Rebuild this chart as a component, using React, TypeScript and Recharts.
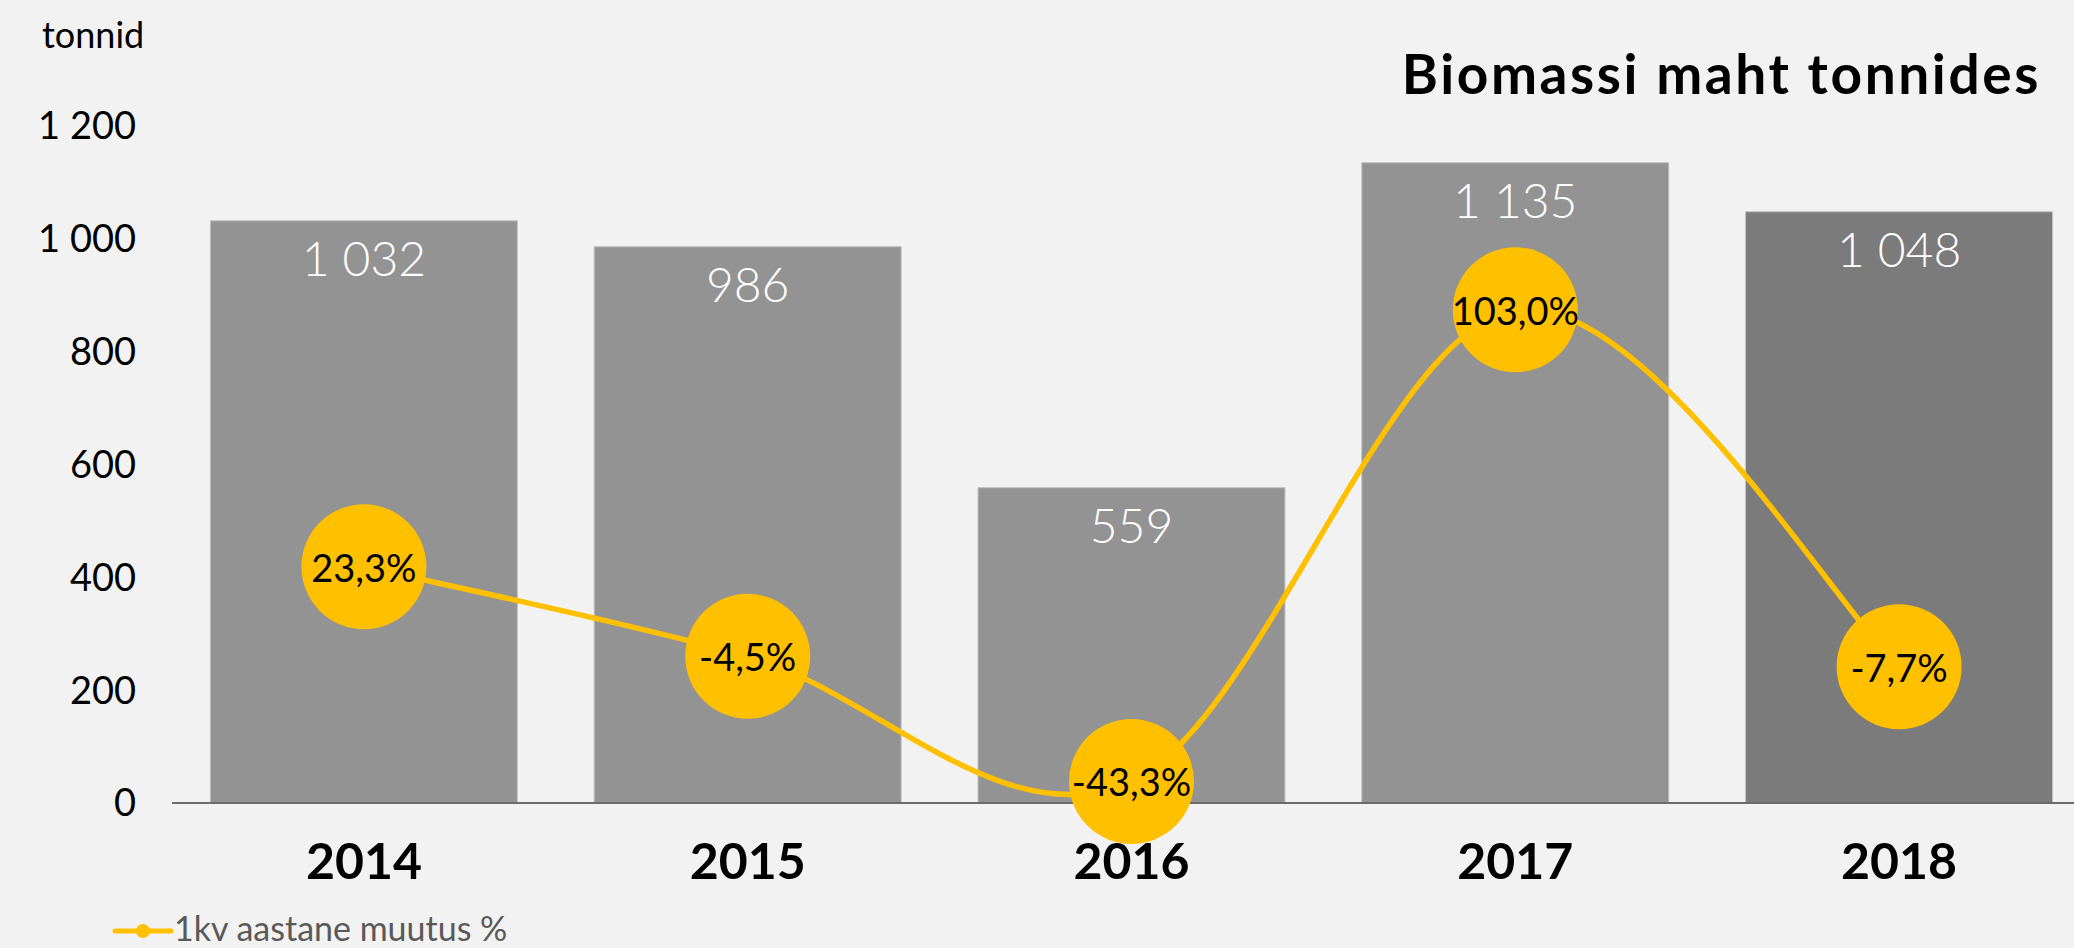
import React from 'react';
import { ComposedChart, Bar, Line, XAxis, YAxis, Cell, LabelList, Legend } from 'recharts';

const YEARS = ['2014', '2015', '2016', '2017', '2018'];
const BIOMASS = [1032, 986, 559, 1135, 1048];
const CHANGE = [23.3, -4.5, -43.3, 103.0, -7.7];
const Y_TICKS = [0, 200, 400, 600, 800, 1000, 1200];
const BOUNDARY_TICKS = [0, 1, 2, 3, 4, 5];
const BAR_COLORS = ['#939393', '#939393', '#939393', '#939393', '#7b7b7b'];
const TITLE = 'Biomassi maht tonnides';
const UNIT = 'tonnid';
const LEGEND_LABEL = '1kv aastane muutus %';

const data = YEARS.map((year, i) => ({ year, biomass: BIOMASS[i], change: CHANGE[i] }));

const FONT = 'Lato, "Open Sans", sans-serif';
const GOLD = '#FFC000';
const W = 2091;
const H = 948;

const fmtThousands = (v: number) => String(v).replace(/\B(?=(\d{3})+(?!\d))/g, ' ');
const fmtPct = (v: number) => v.toFixed(1).replace('.', ',') + '%';

// Excel-like smoothed line (Catmull-Rom through points)
const excelSmooth = (context: any) => {
  let pts: [number, number][] = [];
  return {
    areaStart() {},
    areaEnd() {},
    lineStart() {
      pts = [];
    },
    point(x: number, y: number) {
      pts.push([+x, +y]);
    },
    lineEnd() {
      const n = pts.length;
      if (!n) return;
      context.moveTo(pts[0][0], pts[0][1]);
      for (let i = 0; i < n - 1; i++) {
        const p0 = pts[Math.max(i - 1, 0)];
        const p1 = pts[i];
        const p2 = pts[i + 1];
        const p3 = pts[Math.min(i + 2, n - 1)];
        context.bezierCurveTo(
          p1[0] + (p2[0] - p0[0]) / 6,
          p1[1] + (p2[1] - p0[1]) / 6,
          p2[0] - (p3[0] - p1[0]) / 6,
          p2[1] - (p3[1] - p1[1]) / 6,
          p2[0],
          p2[1]
        );
      }
    },
  };
};

const renderDot = (props: any) => {
  const { cx, cy, value, index } = props;
  if (cx == null || cy == null) return <g key={`d${index}`} />;
  return (
    <g key={`d${index}`}>
      <circle cx={cx} cy={cy} r={62.5} fill={GOLD} />
      <text x={cx} y={cy} dy={15} textAnchor="middle" fontFamily={FONT} fontSize={38} fill="#000">
        {fmtPct(value)}
      </text>
    </g>
  );
};

const renderBarLabel = (props: any) => {
  const { x, y, width, value, index } = props;
  return (
    <text
      key={`bl${index}`}
      x={x + width / 2}
      y={y}
      dy={55}
      textAnchor="middle"
      fontFamily={FONT}
      fontWeight={300}
      fontSize={48}
      fill="#ffffff"
    >
      {fmtThousands(value)}
    </text>
  );
};

const YearTick = (props: any) => {
  const { x, y, payload } = props;
  return (
    <text x={x} y={y} dy={76} textAnchor="middle" fontFamily={FONT} fontWeight={700} fontSize={50} fill="#000">
      {payload.value}
    </text>
  );
};

const BoundaryTick = (props: any) => {
  const { x, y } = props;
  return <line x1={x} x2={x} y1={y - 14} y2={y + 15} stroke="#6b6b6b" strokeWidth={2} />;
};

const LegendContent = () => (
  <svg width={420} height={40} style={{ display: 'block', overflow: 'visible' }}>
    <line x1={5} x2={61} y1={26} y2={26} stroke={GOLD} strokeWidth={5} strokeLinecap="round" />
    <circle cx={33} cy={26} r={7} fill={GOLD} />
    <text x={64} y={36} fontFamily={FONT} fontSize={34} fill="#595959">
      {LEGEND_LABEL}
    </text>
  </svg>
);

export default function App() {
  return (
    <div
      style={{
        position: 'absolute',
        left: 0,
        top: 0,
        width: 2074,
        height: 948,
        overflow: 'hidden',
        background: '#f2f2f2',
      }}
    >
      <ComposedChart
        width={W}
        height={H}
        data={data}
        margin={{ top: 126, right: 0, bottom: 0, left: 0 }}
        barCategoryGap="10%"
      >
        <XAxis
          xAxisId="bounds"
          type="number"
          domain={[0, 5]}
          ticks={BOUNDARY_TICKS}
          interval={0}
          height={0}
          axisLine={false}
          tickLine={false}
          tickSize={0}
          tickMargin={0}
          tick={<BoundaryTick />}
          allowDataOverflow
        />
        <XAxis
          xAxisId="cat"
          dataKey="year"
          height={145}
          axisLine={{ stroke: '#6b6b6b', strokeWidth: 2 }}
          tickLine={false}
          tickSize={0}
          tickMargin={0}
          interval={0}
          tick={<YearTick />}
        />
        <YAxis
          yAxisId="left"
          width={172}
          domain={[0, 1200]}
          ticks={Y_TICKS}
          interval={0}
          axisLine={false}
          tickLine={false}
          tickSize={0}
          tickMargin={36}
          tickFormatter={fmtThousands}
          tick={{ fill: '#000', fontSize: 38, fontFamily: FONT }}
        />
        <YAxis yAxisId="pct" orientation="right" domain={[-50, 160]} hide />
        <Bar
          xAxisId="cat"
          yAxisId="left"
          dataKey="biomass"
          stroke="#c2c2c2"
          strokeWidth={1}
          isAnimationActive={false}
        >
          {data.map((d, i) => (
            <Cell key={d.year} fill={BAR_COLORS[i]} />
          ))}
          <LabelList dataKey="biomass" content={renderBarLabel} />
        </Bar>
        <Line
          xAxisId="cat"
          yAxisId="pct"
          dataKey="change"
          type={excelSmooth as any}
          stroke={GOLD}
          strokeWidth={5.5}
          dot={renderDot}
          activeDot={false}
          isAnimationActive={false}
        />
        <Legend
          verticalAlign="middle"
          align="center"
          content={<LegendContent />}
          wrapperStyle={{ top: 905, left: 110, width: 420, height: 40 }}
        />
      </ComposedChart>
      <svg
        width={2074}
        height={948}
        style={{ position: 'absolute', left: 0, top: 0, pointerEvents: 'none' }}
      >
        <text x={42} y={48} fontFamily={FONT} fontSize={36} fill="#000">
          {UNIT}
        </text>
        <text
          x={2041}
          y={94}
          textAnchor="end"
          fontFamily={FONT}
          fontWeight={700}
          fontSize={55}
          letterSpacing={2.6}
          fill="#000"
        >
          {TITLE}
        </text>
      </svg>
    </div>
  );
}
